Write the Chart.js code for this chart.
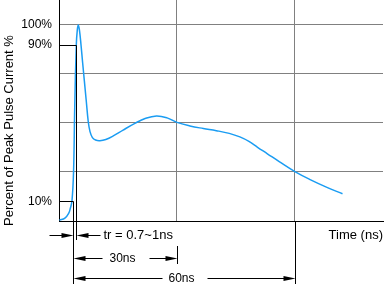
<!DOCTYPE html>
<html>
<head>
<meta charset="utf-8">
<script src="https://cdn.jsdelivr.net/npm/chart.js@4"></script>
<style>
body{margin:0;background:#fff}
#wrap{width:387px;height:293px;position:relative}
</style>
</head>
<body>
<div id="wrap"><canvas id="myChart"></canvas></div>
<script>
// pulse shape (time in ns, % of peak current)
let timeNs=[0.1,1.5,2.5,2.9,3.3, 3.7,4.0,4.4,4.65,4.9, 5.2,5.6,6.0,6.9,7.45, 7.9,8.5,9.3,10.4,11.9,
            13.8,16.3,19.3,21.9,24.8, 27.5,30,33.3,36.7,40, 43.3,46,48.3,50.5,53, 56,60,64,68,72.1];
let percent=[0.4,1.5,4.1,6.6,10.2, 25,58,89.8,97.4,100, 97.4,89.8,81,62,50.5, 45.5,42.5,41.3,41,41.6,
             43.4,46.4,49.8,52.3,53.6, 52.6,50.3,48.5,47.2,46.1, 44.7,42.9,40.6,37.6,34.3, 30.3,25.2,21,17.3,13.9];
let yTicks=[10,25,50,75,90,100];
let yLabels=[10,90,100];
let yGrid=[25,50,75,100];
let xGrid=[30,60];
let trStart=3.5;   // 10% point
let trEnd=4.4;     // 90% point

const FONT="'Liberation Sans', Arial, sans-serif";
Chart.defaults.font.family=FONT;
Chart.defaults.color="#000";

function arrow(ctx,tip,yy,dir){
    ctx.beginPath();
    ctx.moveTo(tip,yy);
    ctx.lineTo(tip-dir*12,yy-2.5);
    ctx.lineTo(tip-dir*12,yy+2.5);
    ctx.closePath();
    ctx.fill();
}
function hline(ctx,x1,x2,yy){
    ctx.beginPath();ctx.moveTo(x1,yy);ctx.lineTo(x2,yy);ctx.stroke();
}
function vline(ctx,xx,y1,y2){
    ctx.beginPath();ctx.moveTo(xx,y1);ctx.lineTo(xx,y2);ctx.stroke();
}

const marks={
    id:"marks",
    afterDraw(chart){
        const {ctx,chartArea:a,scales:{x,y}}=chart;
        const px=v=>Math.round(x.getPixelForValue(v))+0.5;
        const py=v=>Math.round(y.getPixelForValue(v))+0.5;
        const b=Math.round(a.bottom);
        ctx.save();
        ctx.strokeStyle="#000";
        ctx.fillStyle="#000";
        ctx.lineWidth=1;
        // 10% / 90% markers
        hline(ctx,a.left,px(trEnd),py(90));
        hline(ctx,a.left,px(trStart),py(10));
        vline(ctx,px(trEnd),py(90),b+19);
        vline(ctx,px(trStart),py(10),b+63);
        vline(ctx,px(30),b+25,b+43);
        vline(ctx,px(60),b,b+63);

        ctx.textBaseline="middle";
        // rise time
        let r=b+14.5;
        hline(ctx,px(-2.5),px(trStart)-10,r);
        arrow(ctx,px(trStart),r,1);
        arrow(ctx,px(trEnd),r,-1);
        hline(ctx,px(trEnd)+10,px(10.4),r);
        ctx.font="13px "+FONT;
        ctx.textAlign="left";
        ctx.fillText("tr = 0.7~1ns",px(11.2),r);
        // 30ns
        r=b+37.5;
        arrow(ctx,px(trStart),r,-1);
        hline(ctx,px(trStart)+10,px(10.9),r);
        hline(ctx,px(22.8),px(30)-10,r);
        arrow(ctx,px(30),r,1);
        ctx.font="12px "+FONT;
        ctx.textAlign="center";
        ctx.fillText("30ns",px(15.9),r);
        // 60ns
        r=b+57.5;
        arrow(ctx,px(trStart),r,-1);
        hline(ctx,px(trStart)+10,px(26.2),r);
        hline(ctx,px(37.6),px(60)-10,r);
        arrow(ctx,px(60),r,1);
        ctx.fillText("60ns",px(31.1),r);

        // y title
        ctx.translate(13,130.5);
        ctx.rotate(-Math.PI/2);
        ctx.font="13px "+FONT;
        ctx.textAlign="center";
        ctx.textBaseline="alphabetic";
        ctx.fillText("Percent of Peak Pulse Current %",0,0);
        ctx.restore();
    }
};

let myChart=document.querySelector("#myChart").getContext("2d");
var chart=new Chart(myChart,{
    type:"line",
    data:{
        datasets:[{
            data:timeNs.map((t,i)=>({x:t,y:percent[i]})),
            borderColor:"#1a9cf2",
            borderWidth:1.5,
            pointRadius:0,
            fill:false,
            tension:0.4
        }]
    },
    options:{
        responsive:true,
        maintainAspectRatio:false,
        animation:false,
        layout:{padding:{left:0,right:4,top:0,bottom:0}},
        plugins:{legend:{display:false},tooltip:{enabled:false}},
        scales:{
            x:{
                type:"linear",
                min:0,
                max:82.4,
                afterBuildTicks:s=>{s.ticks=xGrid.map(v=>({value:v}));},
                afterFit:s=>{s.height=72;s.paddingLeft=0;s.paddingRight=0;},
                ticks:{display:false},
                grid:{color:"#808080",lineWidth:1,drawTicks:false},
                border:{color:"#000",width:1},
                title:{display:true,text:"Time (ns)",align:"end",font:{size:13},padding:{top:0,bottom:50}}
            },
            y:{
                min:0,
                max:112.75,
                afterBuildTicks:s=>{s.ticks=yTicks.map(v=>({value:v}));},
                afterFit:s=>{s.width=59;s.paddingTop=0;s.paddingBottom=0;},
                ticks:{
                    padding:7,
                    font:{size:12},
                    callback:v=>yLabels.includes(v)?v+"%":""
                },
                grid:{
                    color:c=>(c.tick&&yGrid.includes(c.tick.value))?"#808080":"rgba(0,0,0,0)",
                    lineWidth:1,
                    drawTicks:false
                },
                border:{color:"#000",width:1}
            }
        }
    },
    plugins:[marks]
});
</script>
</body>
</html>
